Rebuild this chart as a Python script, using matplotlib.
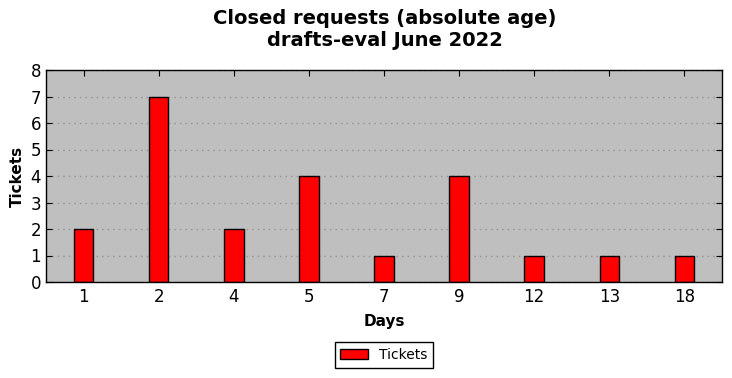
import numpy as np
import matplotlib.pyplot as plt

# datos
days = ['1', '2', '4', '5', '7', '9', '12', '13', '18']
tickets = [2, 7, 2, 4, 1, 4, 1, 1, 1]

fig = plt.figure(figsize=(7.32, 3.78), dpi=100)
ax = fig.add_axes([46/732, 1-282/378, 676/732, 212/378])

x = np.arange(len(days))
ax.bar(x, tickets, width=0.26, color='red', edgecolor='black', linewidth=1, label='Tickets', zorder=2)

ax.set_facecolor('#bfbfbf')
ax.set_xlim(-0.5, len(days) - 0.5)
ax.set_ylim(0, 8)
ax.set_xticks(x)
ax.set_xticklabels(days)
ax.set_yticks(range(0, 9))
ax.tick_params(axis='both', direction='in', top=True, right=True, labelsize=12, length=4, color='black')
ax.tick_params(axis='x', pad=4)
ax.yaxis.grid(True, linestyle=(0, (1.2, 2.8)), color='#999999', linewidth=1.0, zorder=0)
ax.set_axisbelow(True)
for s in ax.spines.values():
    s.set_linewidth(1)

ax.set_xlabel('Days', fontsize=11, fontweight='bold', labelpad=6)
ax.set_ylabel('Tickets', fontsize=11, fontweight='bold', labelpad=4)
fig.suptitle('Closed requests (absolute age)\ndrafts-eval June 2022', fontsize=14, fontweight='bold',
             x=385/732, y=0.975)

leg = fig.legend(loc='center', bbox_to_anchor=(384/732, 1-355/378), fontsize=10, fancybox=False, edgecolor='black', framealpha=1)
leg.get_frame().set_linewidth(1)

fig.savefig('out.png', dpi=100)
